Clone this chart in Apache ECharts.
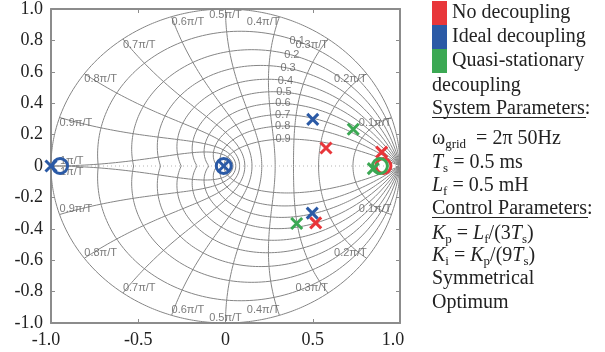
<!DOCTYPE html>
<html><head><meta charset="utf-8">
<script src="https://cdn.jsdelivr.net/npm/echarts@6/dist/echarts.min.js"></script>
<style>html,body{margin:0;padding:0;background:#fff}#c{width:605px;height:352px}</style>
</head><body><div id="c"></div>
<script>
// ---- data ----
const seriesNames = ['No decoupling', 'Ideal decoupling', 'Quasi-stationary decoupling'];
const seriesColors = ['#e8363a', '#2b5aa6', '#3ba853'];
const redPoles   = [[0.576, 0.115], [0.895, 0.088], [0.517, -0.362]];
const redZeros   = [[0.905, 0.0]];
const bluePoles  = [[0.50, 0.297], [0.497, -0.30], [-0.01, 0.0], [-1.0, 0.0]];
const blueZeros  = [[-0.01, 0.0], [-0.948, 0.0]];
const greenPoles = [[0.732, 0.234], [0.847, -0.017], [0.408, -0.366]];
const greenZeros = [[0.885, 0.0]];
const dampingRatios = [0, 0.1, 0.2, 0.3, 0.4, 0.5, 0.6, 0.7, 0.8, 0.9];
const dampingLabels = ['', '0.1', '0.2', '0.3', '0.4', '0.5', '0.6', '0.7', '0.8', '0.9'];
const natFreqs = [0.1, 0.2, 0.3, 0.4, 0.5, 0.6, 0.7, 0.8, 0.9, 1.0]; // x pi/T
const natFreqLabels = ['0.1π/T', '0.2π/T', '0.3π/T', '0.4π/T', '0.5π/T', '0.6π/T', '0.7π/T', '0.8π/T', '0.9π/T', '1π/T'];
const xTickLabels = ['-1.0', '-0.5', '0', '0.5', '1.0'];
const yTickLabels = ['-1.0', '-0.8', '-0.6', '-0.4', '-0.2', '0', '0.2', '0.4', '0.6', '0.8', '1.0'];

// ---- z-plane grid geometry ----
const GRID_COLOR = '#858585';
function dampCurve(zeta) {
  const m = zeta / Math.sqrt(1 - zeta * zeta);
  const N = 240, pts = [];
  for (let i = N; i >= 0; i--) { const t = Math.PI * i / N, r = Math.exp(-m * t); pts.push([r * Math.cos(t), -r * Math.sin(t)]); }
  for (let i = 1; i <= N; i++) { const t = Math.PI * i / N, r = Math.exp(-m * t); pts.push([r * Math.cos(t), r * Math.sin(t)]); }
  return pts;
}
function zOf(zeta, w) {
  const r = Math.exp(-zeta * w), a = w * Math.sqrt(Math.max(0, 1 - zeta * zeta));
  return [r * Math.cos(a), r * Math.sin(a)];
}
function freqCurve(k) {
  const w = k * Math.PI, N = 160, pts = [];
  for (let i = 0; i <= N; i++) { const z = zOf(Math.sin(Math.PI / 2 * i / N), w); pts.push([z[0], -z[1]]); }
  for (let i = N - 1; i >= 0; i--) { const z = zOf(Math.sin(Math.PI / 2 * i / N), w); pts.push([z[0], z[1]]); }
  return pts;
}
const gridSeries = [];
dampingRatios.forEach(z => gridSeries.push({ type: 'line', data: dampCurve(z), showSymbol: false, silent: true, z: 1,
  lineStyle: { color: GRID_COLOR, width: 1 }, animation: false }));
natFreqs.forEach(k => gridSeries.push({ type: 'line', data: freqCurve(k), showSymbol: false, silent: true, z: 1,
  lineStyle: { color: GRID_COLOR, width: 1 }, animation: false }));
gridSeries.push({ type: 'line', data: [[-1, 0], [1, 0]], showSymbol: false, silent: true, z: 1,
  lineStyle: { color: '#b5b5b5', width: 1, type: [1, 3] }, animation: false });

// grid labels
const labelFont = { fontFamily: 'Liberation Sans', fontSize: 11, color: '#5a5a5a' };
const freqLabelData = [];
natFreqs.forEach((k, i) => {
  const z = zOf(0, k * Math.PI);
  const align = k < 0.5 ? 'right' : (k > 0.5 ? 'left' : 'center');
  const last = i === natFreqs.length - 1;
  freqLabelData.push({ value: [z[0], Math.abs(z[1])], name: natFreqLabels[i],
    label: { align, verticalAlign: last ? 'bottom' : 'top', offset: last ? [9, 0] : [0, 0] } });
  freqLabelData.push({ value: [z[0], -Math.abs(z[1])], name: natFreqLabels[i],
    label: { align, verticalAlign: last ? 'top' : 'bottom', offset: last ? [9, 0] : [0, 0] } });
});
const dampLabelData = [];
dampingRatios.forEach((zeta, i) => {
  if (!dampingLabels[i]) return;
  const z = zOf(zeta, 0.35 * Math.PI);
  dampLabelData.push({ value: z, name: dampingLabels[i], label: { align: 'center', verticalAlign: 'middle' } });
});
const labelSeries = [freqLabelData, dampLabelData].map(d => ({
  type: 'scatter', data: d, symbolSize: 0.1, silent: true, z: 2, animation: false,
  itemStyle: { color: 'transparent' },
  label: Object.assign({ show: true, position: 'inside', formatter: '{b}' }, labelFont)
}));

// ---- markers ----
const XSYM = 'path://M0,0L10,10M10,0L0,10';
function markers(poles, zeros) {
  return zeros.map(p => ({ value: p, symbol: 'circle', symbolSize: 15 }))
    .concat(poles.map(p => ({ value: p, symbol: XSYM, symbolSize: 11 })));
}
const markerSets = [markers(redPoles, redZeros), markers(bluePoles, blueZeros), markers(greenPoles, greenZeros)];
const markerSeries = seriesNames.map((n, i) => ({
  type: 'scatter', name: n, data: markerSets[i], z: 5, animation: false,
  itemStyle: { color: 'none', borderColor: seriesColors[i], borderWidth: 3, opacity: 1 }
}));

// ---- chart ----
const serif = 'Liberation Serif';
const TXT = '#222';
const chart = echarts.init(document.getElementById('c'), null, { renderer: 'canvas' });
const axisCommon = {
  type: 'value', min: -1, max: 1,
  axisLine: { show: true, onZero: false, lineStyle: { color: '#8c8c8c', width: 2 } },
  axisTick: { show: true, inside: true, length: 4, lineStyle: { color: '#8c8c8c', width: 1 } },
  splitLine: { show: false }
};
const rich = {
  n: { fontFamily: serif, fontSize: 20, color: TXT, lineHeight: 24 },
  i: { fontFamily: serif, fontSize: 20, color: TXT, lineHeight: 24, fontStyle: 'italic' },
  s: { fontFamily: serif, fontSize: 13, color: TXT, lineHeight: 13, verticalAlign: 'bottom' }
};
function txt(y, str) {
  return { type: 'text', left: 432, top: y - 9, style: { text: str, rich, font: '20px ' + serif, fill: TXT } };
}
const xLabelRich = { l: { padding: [0, 0, 0, -10] }, r: { padding: [0, 14, 0, 0] } };
chart.setOption({
  animation: false,
  grid: { left: 51, top: 4.5, right: 205, bottom: 29, containLabel: false },
  xAxis: [
    Object.assign({}, axisCommon, { interval: 0.5, position: 'bottom',
      axisLabel: { margin: 8, fontFamily: serif, fontSize: 18, color: TXT,
        formatter: (v, i) => i === 0 ? '{l|' + xTickLabels[i] + '}' : (i === xTickLabels.length - 1 ? '{r|' + xTickLabels[i] + '}' : xTickLabels[i]),
        rich: xLabelRich } }),
    Object.assign({}, axisCommon, { interval: 0.5, position: 'top', axisLabel: { show: false } })
  ],
  yAxis: [
    Object.assign({}, axisCommon, { interval: 0.2, position: 'left',
      axisLabel: { margin: 8, fontFamily: serif, fontSize: 18, color: TXT, formatter: (v, i) => yTickLabels[i] } }),
    Object.assign({}, axisCommon, { interval: 0.2, position: 'right', axisLabel: { show: false } })
  ],
  legend: {
    orient: 'vertical', left: 432, top: 1, padding: 0, itemWidth: 15, itemHeight: 24, itemGap: 0,
    icon: 'rect', selectedMode: false,
    textStyle: { fontFamily: serif, fontSize: 20, color: TXT },
    formatter: n => n === seriesNames[2] ? 'Quasi-stationary' : n,
    data: seriesNames.map((n, i) => ({ name: n, itemStyle: { color: seriesColors[i], borderWidth: 0 } }))
  },
  graphic: [
    txt(85, 'decoupling'),
    txt(108, 'System Parameters:'),
    { type: 'line', shape: { x1: 432, y1: 117.5, x2: 586, y2: 117.5 }, style: { stroke: TXT, lineWidth: 1 } },
    txt(138, '{n|ω}{s|grid}{n|  = 2π 50Hz}'),
    txt(162, '{i|T}{s|s}{n| = 0.5 ms}'),
    txt(185, '{i|L}{s|f}{n| = 0.5 mH}'),
    txt(208, 'Control Parameters:'),
    { type: 'line', shape: { x1: 432, y1: 217.5, x2: 588, y2: 217.5 }, style: { stroke: TXT, lineWidth: 1 } },
    txt(233, '{i|K}{s|p}{n| = }{i|L}{s|f}{n|/(3}{i|T}{s|s}{n|)}'),
    txt(255, '{i|K}{s|i}{n| = }{i|K}{s|p}{n|/(9}{i|T}{s|s}{n|)}'),
    txt(278, 'Symmetrical'),
    txt(302, 'Optimum')
  ],
  series: gridSeries.concat(labelSeries, markerSeries)
});
</script></body></html>
